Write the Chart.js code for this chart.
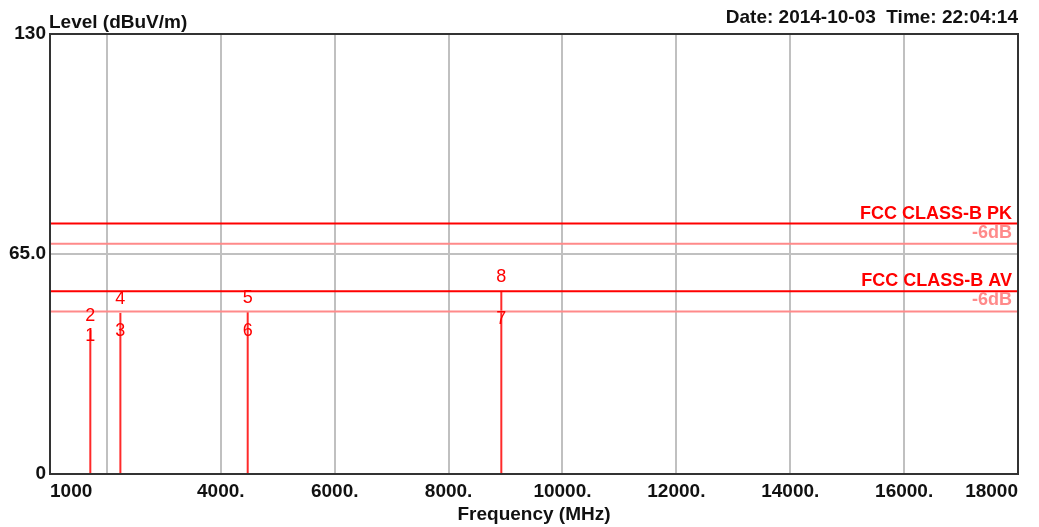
<!DOCTYPE html>
<html>
<head>
<meta charset="utf-8">
<script src="https://cdn.jsdelivr.net/npm/chart.js@4"></script>
<style>
  body { margin: 0; background: #fff; }
  #wrap { width: 1039px; height: 527px; position: relative; }
</style>
</head>
<body>
<div id="wrap"><canvas id="grafico"></canvas></div>
<script>
// datos
const markerFreqs = [1708, 2236, 4472, 8926];   // MHz
const peakLevels  = [42.5, 47.6, 47.9, 54.1];   // dBuV/m
const avgLevels   = [37.2, 38.7, 38.7, 42.2];
const peakIds     = ['2', '4', '5', '8'];
const avgIds      = ['1', '3', '6', '7'];

const limitNames  = ['FCC CLASS-B PK', 'FCC CLASS-B AV'];
const limitLevels = [74, 54];
const marginDb    = 6;

const xTicks = [1000, 2000, 4000, 6000, 8000, 10000, 12000, 14000, 16000, 18000];
const yTicks = [0, 65, 130];

const RED = '#ff0000';
const PINK = '#ff8a8a';
const FONT = '"Liberation Sans", Arial, sans-serif';

// lineas de limite y sus margenes
const datasets = [];
limitLevels.forEach(function (lv) {
  datasets.push({
    data: [{x: xTicks[0], y: lv}, {x: xTicks[xTicks.length - 1], y: lv}],
    borderColor: RED, borderWidth: 2, pointRadius: 0
  });
  datasets.push({
    data: [{x: xTicks[0], y: lv - marginDb}, {x: xTicks[xTicks.length - 1], y: lv - marginDb}],
    borderColor: PINK, borderWidth: 2, pointRadius: 0
  });
});
// marcadores verticales
markerFreqs.forEach(function (f, i) {
  datasets.push({
    data: [{x: f, y: 0}, {x: f, y: peakLevels[i]}],
    borderColor: '#ff2a2a', borderWidth: 2, pointRadius: 0
  });
});

const textos = {
  id: 'textos',
  afterDraw(chart) {
    const {ctx, chartArea: a, scales: {x, y}} = chart;
    ctx.save();
    // marco
    ctx.strokeStyle = '#333';
    ctx.lineWidth = 2;
    ctx.strokeRect(a.left, a.top, a.right - a.left, a.bottom - a.top);

    // nombres de limites
    ctx.textAlign = 'right';
    ctx.textBaseline = 'alphabetic';
    limitNames.forEach(function (name, i) {
      const py = y.getPixelForValue(limitLevels[i]);
      ctx.font = 'bold 18px ' + FONT;
      ctx.fillStyle = RED;
      ctx.fillText(name, a.right - 6, py - 5);
      ctx.fillStyle = PINK;
      ctx.fillText('-' + marginDb + 'dB', a.right - 6, py + 14);
    });

    // numeros de marcador
    ctx.font = '18px ' + FONT;
    ctx.fillStyle = RED;
    ctx.textAlign = 'center';
    ctx.textBaseline = 'middle';
    markerFreqs.forEach(function (f, i) {
      const px = x.getPixelForValue(f);
      ctx.fillText(peakIds[i], px, y.getPixelForValue(peakLevels[i]) - 14);
      ctx.fillText(avgIds[i], px, y.getPixelForValue(avgLevels[i]) - 12);
    });

    // titulos
    ctx.fillStyle = '#111';
    ctx.font = 'bold 19px ' + FONT;
    ctx.textBaseline = 'alphabetic';
    ctx.textAlign = 'left';
    ctx.fillText('Level (dBuV/m)', a.left - 1, 28);
    ctx.textAlign = 'right';
    ctx.fillText('Date: 2014-10-03  Time: 22:04:14', a.right, 23);
    ctx.textAlign = 'center';
    ctx.fillText('Frequency (MHz)', (a.left + a.right) / 2, 520);
    ctx.restore();
  }
};

new Chart(document.getElementById('grafico').getContext('2d'), {
  type: 'line',
  data: { datasets: datasets },
  options: {
    responsive: true,
    maintainAspectRatio: false,
    animation: false,
    layout: { padding: { top: 34, right: 21, left: 0, bottom: 0 } },
    plugins: { legend: { display: false }, tooltip: { enabled: false } },
    scales: {
      x: {
        type: 'linear', min: 1000, max: 18000,
        afterBuildTicks: function (s) { s.ticks = xTicks.map(v => ({value: v})); },
        afterFit: function (s) { s.height = 53; },
        border: { display: false },
        grid: {
          drawTicks: false, lineWidth: 2,
          color: c => (c.tick && (c.tick.value === 1000 || c.tick.value === 18000)) ? 'transparent' : '#c0c0c0'
        },
        ticks: {
          autoSkip: false, maxRotation: 0, padding: 6, align: 'inner',
          color: '#111', font: { family: FONT, size: 19, weight: 'bold' },
          callback: function (v) {
            if (v === 2000) return '';
            if (v === 1000 || v === 18000) return String(v);
            return v + '.';
          }
        }
      },
      y: {
        min: 0, max: 130,
        afterBuildTicks: function (s) { s.ticks = yTicks.map(v => ({value: v})); },
        afterFit: function (s) { s.width = 50; },
        border: { display: false },
        grid: {
          drawTicks: false, lineWidth: 2,
          color: c => (c.tick && c.tick.value === 65) ? '#c0c0c0' : 'transparent'
        },
        ticks: {
          padding: 4, color: '#111',
          font: { family: FONT, size: 19, weight: 'bold' },
          callback: v => v === 65 ? '65.0' : String(v)
        }
      }
    }
  },
  plugins: [textos]
});
</script>
</body>
</html>
